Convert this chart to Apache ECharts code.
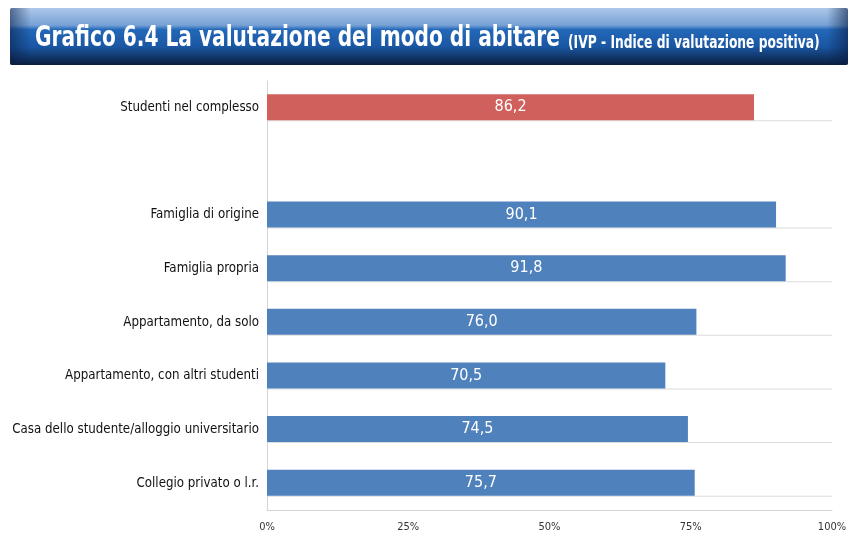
<!DOCTYPE html>
<html>
<head>
<meta charset="utf-8">
<script src="https://cdn.jsdelivr.net/npm/echarts@6/dist/echarts.min.js"></script>
<style>
  html, body { margin: 0; padding: 0; background: #ffffff; }
  #chart { width: 854px; height: 536px; }
</style>
</head>
<body>
<div id="chart"></div>
<script>
// Housing groups, top to bottom (the empty entry leaves a gap after the total)
const categories = [
  'Studenti nel complesso',
  '',
  'Famiglia di origine',
  'Famiglia propria',
  'Appartamento, da solo',
  'Appartamento, con altri studenti',
  'Casa dello studente/alloggio universitario',
  'Collegio privato o l.r.'
];
// IVP values (%)
const values = [86.2, null, 90.1, 91.8, 76.0, 70.5, 74.5, 75.7];
// Bar colours: the overall figure is highlighted in red
const barColors = ['#d0605b', null, '#4f81bd', '#4f81bd', '#4f81bd', '#4f81bd', '#4f81bd', '#4f81bd'];
// Floor lines drawn under each bar, running to the end of the scale
const floorLine = [100, null, 100, 100, 100, 100, 100, 100];
// Value axis ticks
const xTicks = [0, 25, 50, 75, 100];

const font = "'DejaVu Sans Condensed', 'Open Sans', sans-serif";

const chart = echarts.init(document.getElementById('chart'), null, { renderer: 'canvas' });

chart.setOption({
  backgroundColor: '#ffffff',
  animation: false,
  graphic: [
    {
      type: 'rect',
      shape: { x: 10, y: 8, width: 838, height: 57, r: 2 },
      style: {
        fill: new echarts.graphic.LinearGradient(0, 0, 0, 1, [
          { offset: 0, color: '#adc8ea' },
          { offset: 0.3, color: '#78a2d6' },
          { offset: 0.38, color: '#2368b9' },
          { offset: 0.68, color: '#1a56a2' },
          { offset: 1, color: '#0a1e3e' }
        ])
      },
      z: 1
    },
    {
      type: 'rect',
      shape: { x: 10, y: 8, width: 838, height: 57, r: 2 },
      style: {
        fill: new echarts.graphic.LinearGradient(0, 0, 1, 0, [
          { offset: 0, color: 'rgba(10,30,70,0.55)' },
          { offset: 0.025, color: 'rgba(10,30,70,0)' },
          { offset: 0.975, color: 'rgba(10,30,70,0)' },
          { offset: 1, color: 'rgba(10,30,70,0.6)' }
        ])
      },
      z: 2
    },
    {
      type: 'text',
      x: 35,
      y: 39,
      scaleX: 0.8,
      z: 3,
      style: {
        text: 'Grafico 6.4 La valutazione del modo di abitare',
        fontFamily: font,
        fontWeight: 'bold',
        fontSize: 28,
        fill: '#ffffff',
        verticalAlign: 'middle'
      }
    },
    {
      type: 'text',
      x: 568,
      y: 43,
      scaleX: 0.76,
      z: 3,
      style: {
        text: '(IVP - Indice di valutazione positiva)',
        fontFamily: font,
        fontWeight: 'bold',
        fontSize: 18,
        fill: '#ffffff',
        verticalAlign: 'middle'
      }
    }
  ],
  grid: { left: 267, right: 22, top: 81, bottom: 26, containLabel: false, outerBoundsMode: 'none' },
  xAxis: {
    type: 'value',
    min: xTicks[0],
    max: xTicks[xTicks.length - 1],
    interval: 25,
    axisLine: { show: true, lineStyle: { color: '#d4d4d4', width: 1 } },
    axisTick: { show: false },
    splitLine: { show: false },
    axisLabel: {
      formatter: '{value}%',
      fontFamily: font,
      fontSize: 11,
      color: '#333333',
      margin: 12
    }
  },
  yAxis: {
    type: 'category',
    inverse: true,
    data: categories,
    axisLine: { show: true, lineStyle: { color: '#d4d4d4', width: 1 } },
    axisTick: { show: false },
    splitLine: { show: false },
    axisLabel: {
      fontFamily: font,
      fontSize: 13.2,
      color: '#111111',
      margin: 8
    }
  },
  series: [
    {
      type: 'bar',
      barWidth: 26,
      barGap: '0%',
      data: values.map((v, i) => v === null ? null : { value: v, itemStyle: { color: barColors[i] } }),
      label: {
        show: true,
        position: 'inside',
        formatter: p => p.value.toFixed(1).replace('.', ','),
        fontFamily: font,
        fontSize: 16,
        color: '#ffffff'
      },
      z: 3
    },
    {
      type: 'bar',
      barWidth: 1,
      silent: true,
      data: floorLine,
      itemStyle: { color: '#dcdcdc' },
      z: 2
    }
  ]
});
</script>
</body>
</html>
